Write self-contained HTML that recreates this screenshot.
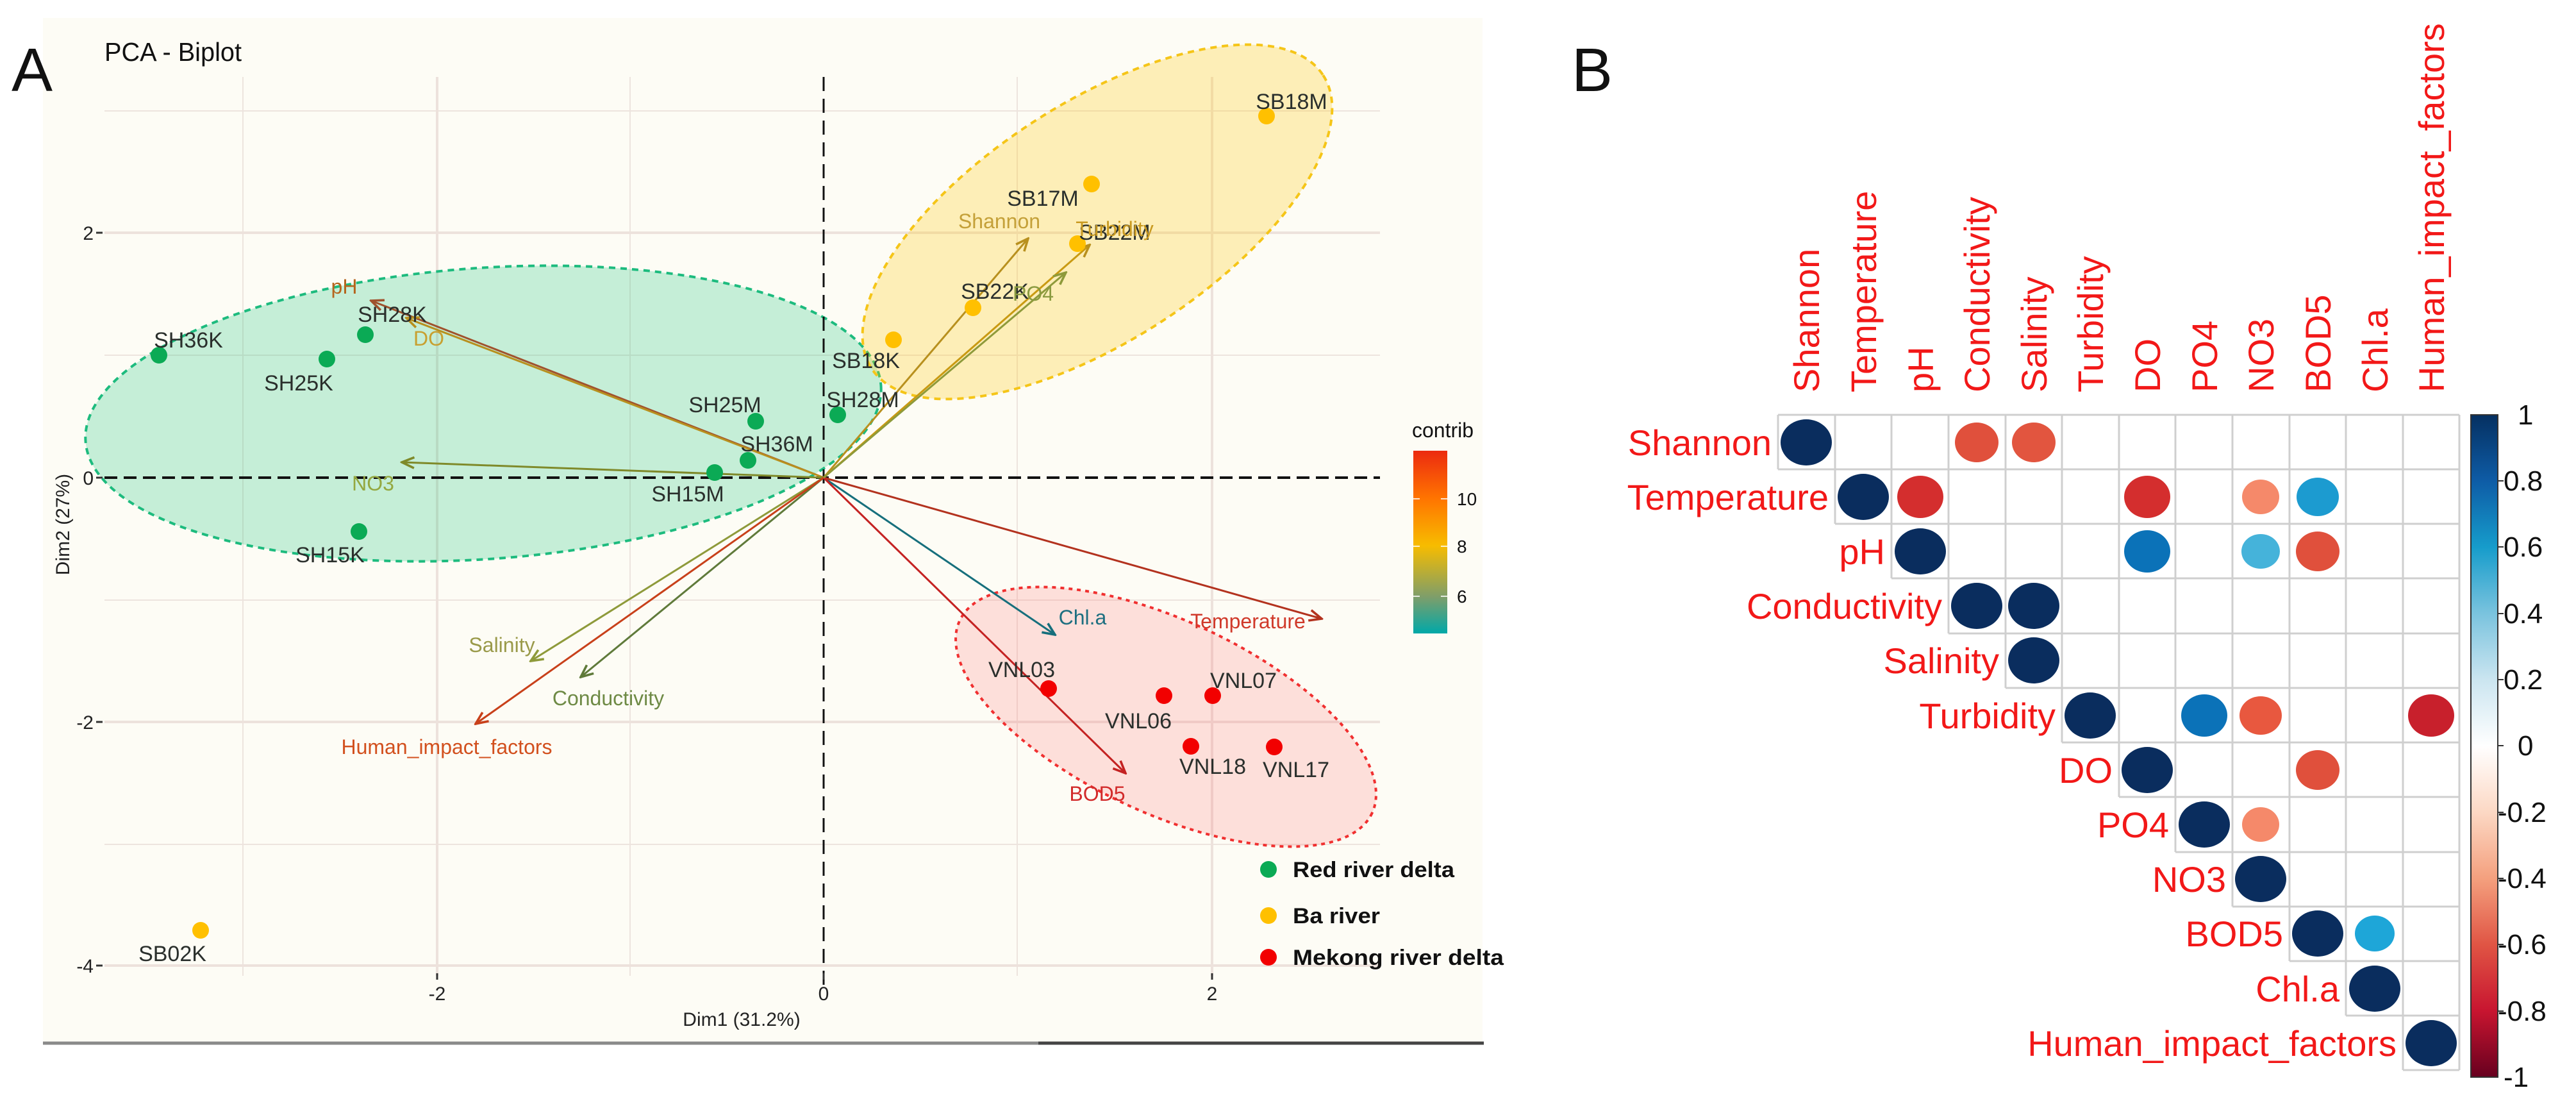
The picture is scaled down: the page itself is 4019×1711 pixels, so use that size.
<!DOCTYPE html>
<html><head><meta charset="utf-8"><style>
html,body{margin:0;padding:0;background:#fff;}
svg{display:block;}
text{font-family:"Liberation Sans",Arial,sans-serif;}
</style></head><body>
<svg width="4019" height="1711" viewBox="0 0 4019 1711" xmlns="http://www.w3.org/2000/svg">
<defs>
<linearGradient id="contrib" x1="0" y1="0" x2="0" y2="1">
<stop offset="0" stop-color="#EC2A10"/><stop offset="0.26" stop-color="#FF7400"/><stop offset="0.52" stop-color="#F7BC00"/><stop offset="0.8" stop-color="#7E9E6A"/><stop offset="1" stop-color="#00A8A8"/>
</linearGradient>
<linearGradient id="corr" x1="0" y1="0" x2="0" y2="1">
<stop offset="0" stop-color="#053061"/><stop offset="0.1" stop-color="#0E5CA6"/><stop offset="0.2" stop-color="#169CCB"/><stop offset="0.3" stop-color="#7AC3DE"/><stop offset="0.4" stop-color="#CBE5F0"/><stop offset="0.5" stop-color="#FFFFFF"/><stop offset="0.6" stop-color="#FCD8C4"/><stop offset="0.7" stop-color="#F4A07E"/><stop offset="0.8" stop-color="#E05544"/><stop offset="0.9" stop-color="#C81530"/><stop offset="1" stop-color="#67001F"/>
</linearGradient>
<marker id="mA" viewBox="0 0 20 20" refX="18" refY="10" markerWidth="24" markerHeight="24" markerUnits="userSpaceOnUse" orient="auto"><path d="M2,3 L18,10 L2,17" fill="none" stroke="#A0522D" stroke-width="3"/></marker>
<marker id="mB" viewBox="0 0 20 20" refX="18" refY="10" markerWidth="24" markerHeight="24" markerUnits="userSpaceOnUse" orient="auto"><path d="M2,3 L18,10 L2,17" fill="none" stroke="#B8901E" stroke-width="3"/></marker>
<marker id="mC" viewBox="0 0 20 20" refX="18" refY="10" markerWidth="24" markerHeight="24" markerUnits="userSpaceOnUse" orient="auto"><path d="M2,3 L18,10 L2,17" fill="none" stroke="#7F8A2A" stroke-width="3"/></marker>
<marker id="mD" viewBox="0 0 20 20" refX="18" refY="10" markerWidth="24" markerHeight="24" markerUnits="userSpaceOnUse" orient="auto"><path d="M2,3 L18,10 L2,17" fill="none" stroke="#5F7A3A" stroke-width="3"/></marker>
<marker id="mE" viewBox="0 0 20 20" refX="18" refY="10" markerWidth="24" markerHeight="24" markerUnits="userSpaceOnUse" orient="auto"><path d="M2,3 L18,10 L2,17" fill="none" stroke="#C8401A" stroke-width="3"/></marker>
<marker id="mF" viewBox="0 0 20 20" refX="18" refY="10" markerWidth="24" markerHeight="24" markerUnits="userSpaceOnUse" orient="auto"><path d="M2,3 L18,10 L2,17" fill="none" stroke="#166F7C" stroke-width="3"/></marker>
<marker id="mG" viewBox="0 0 20 20" refX="18" refY="10" markerWidth="24" markerHeight="24" markerUnits="userSpaceOnUse" orient="auto"><path d="M2,3 L18,10 L2,17" fill="none" stroke="#B3321E" stroke-width="3"/></marker>
<marker id="mH" viewBox="0 0 20 20" refX="18" refY="10" markerWidth="24" markerHeight="24" markerUnits="userSpaceOnUse" orient="auto"><path d="M2,3 L18,10 L2,17" fill="none" stroke="#C42222" stroke-width="3"/></marker>
<marker id="mI" viewBox="0 0 20 20" refX="18" refY="10" markerWidth="24" markerHeight="24" markerUnits="userSpaceOnUse" orient="auto"><path d="M2,3 L18,10 L2,17" fill="none" stroke="#8E9A3A" stroke-width="3"/></marker>
</defs>

<!-- ============ PANEL A ============ -->
<rect x="67" y="28" width="2246" height="1599" fill="#FDFCF5"/>
<line x1="67" y1="1627" x2="1620" y2="1627" stroke="#8a8a8a" stroke-width="5"/>
<line x1="1620" y1="1627" x2="2315" y2="1627" stroke="#444" stroke-width="5"/>
<text x="18" y="142" font-size="96" fill="#111" font-family="Liberation Sans">A</text>
<text x="163" y="95" font-size="41" fill="#111" textLength="214" lengthAdjust="spacingAndGlyphs">PCA - Biplot</text>

<g stroke="#EDE4DE" stroke-width="2">
<line x1="379" y1="120" x2="379" y2="1522"/><line x1="983" y1="120" x2="983" y2="1522"/><line x1="1587" y1="120" x2="1587" y2="1522"/>
<line x1="163" y1="173" x2="2153" y2="173"/><line x1="163" y1="554" x2="2153" y2="554"/><line x1="163" y1="936" x2="2153" y2="936"/><line x1="163" y1="1317" x2="2153" y2="1317"/>
</g>
<g stroke="#EDE2DC" stroke-width="4">
<line x1="682" y1="120" x2="682" y2="1522"/><line x1="1891" y1="120" x2="1891" y2="1522"/>
<line x1="163" y1="363" x2="2153" y2="363"/><line x1="163" y1="1126" x2="2153" y2="1126"/><line x1="163" y1="1506" x2="2153" y2="1506"/>
</g>

<ellipse cx="754" cy="645" rx="622" ry="227" transform="rotate(-4 754 645)" fill="rgba(0,190,110,0.22)" stroke="#1DBB7E" stroke-width="4" stroke-dasharray="10 8"/>
<ellipse cx="1712" cy="346" rx="420" ry="185" transform="rotate(-33 1712 346)" fill="rgba(255,200,20,0.28)" stroke="#F5C518" stroke-width="4" stroke-dasharray="10 8"/>
<ellipse cx="1819" cy="1118" rx="355" ry="150" transform="rotate(25 1819 1118)" fill="rgba(255,110,110,0.2)" stroke="#F03030" stroke-width="4" stroke-dasharray="6 7"/>

<line x1="1285" y1="120" x2="1285" y2="1540" stroke="#111" stroke-width="3" stroke-dasharray="22 12"/>
<line x1="163" y1="745" x2="2153" y2="745" stroke="#111" stroke-width="4" stroke-dasharray="20 10"/>

<g stroke="#333" stroke-width="3">
<line x1="150" y1="363" x2="160" y2="363"/><line x1="150" y1="745" x2="160" y2="745"/><line x1="150" y1="1126" x2="160" y2="1126"/><line x1="150" y1="1506" x2="160" y2="1506"/>
<line x1="682" y1="1518" x2="682" y2="1528"/><line x1="1285" y1="1518" x2="1285" y2="1528"/><line x1="1891" y1="1518" x2="1891" y2="1528"/>
</g>
<g font-size="30" fill="#222" text-anchor="end">
<text x="146" y="374">2</text><text x="146" y="756">0</text><text x="146" y="1137">-2</text><text x="146" y="1517">-4</text>
</g>
<g font-size="30" fill="#222" text-anchor="middle">
<text x="682" y="1560">-2</text><text x="1285" y="1560">0</text><text x="1891" y="1560">2</text>
<text x="1157" y="1600">Dim1 (31.2%)</text>
<text transform="translate(108 818) rotate(-90)">Dim2 (27%)</text>
</g>

<g stroke-width="3" fill="none">
<line x1="1285" y1="745" x2="579" y2="469" stroke="#A0522D" marker-end="url(#mA)"/>
<line x1="1285" y1="745" x2="634" y2="496" stroke="#B8901E" marker-end="url(#mB)"/>
<line x1="1285" y1="745" x2="627" y2="721" stroke="#7F8A2A" marker-end="url(#mC)"/>
<line x1="1285" y1="745" x2="828" y2="1031" stroke="#8E9A3A" marker-end="url(#mI)"/>
<line x1="1285" y1="745" x2="906" y2="1056" stroke="#5F7A3A" marker-end="url(#mD)"/>
<line x1="1285" y1="745" x2="742" y2="1129" stroke="#C8401A" marker-end="url(#mE)"/>
<line x1="1285" y1="745" x2="1646" y2="990" stroke="#166F7C" marker-end="url(#mF)"/>
<line x1="1285" y1="745" x2="2062" y2="965" stroke="#B3321E" marker-end="url(#mG)"/>
<line x1="1285" y1="745" x2="1756" y2="1206" stroke="#C42222" marker-end="url(#mH)"/>
<line x1="1285" y1="745" x2="1604" y2="372" stroke="#B8901E" marker-end="url(#mB)"/>
<line x1="1285" y1="745" x2="1700" y2="382" stroke="#C99A12" marker-end="url(#mB)"/>
<line x1="1285" y1="745" x2="1663" y2="425" stroke="#8E9A3A" marker-end="url(#mI)"/>
</g>

<g fill="#0BAA55">
<circle cx="248" cy="554" r="13"/><circle cx="510" cy="560" r="13"/><circle cx="570" cy="522" r="13"/><circle cx="560" cy="829" r="13"/>
<circle cx="1179" cy="657" r="13"/><circle cx="1167" cy="718" r="13"/><circle cx="1115" cy="737" r="13"/><circle cx="1307" cy="647" r="13"/>
</g>
<g fill="#FFC000">
<circle cx="1394" cy="530" r="13"/><circle cx="1518" cy="480" r="13"/><circle cx="1681" cy="380" r="13"/><circle cx="1703" cy="287" r="13"/><circle cx="1976" cy="181" r="13"/><circle cx="313" cy="1451" r="13"/>
</g>
<g fill="#F20000">
<circle cx="1636" cy="1074" r="13"/><circle cx="1816" cy="1085" r="13"/><circle cx="1892" cy="1085" r="13"/><circle cx="1858" cy="1164" r="13"/><circle cx="1988" cy="1165" r="13"/>
</g>

<g font-size="34" fill="#2a2f2c" text-anchor="middle">
<text x="294" y="542">SH36K</text><text x="466" y="609">SH25K</text><text x="612" y="502">SH28K</text><text x="515" y="877">SH15K</text>
<text x="1131" y="643">SH25M</text><text x="1212" y="704">SH36M</text><text x="1073" y="782">SH15M</text><text x="1346" y="635">SH28M</text>
<text x="1351" y="574">SB18K</text><text x="1552" y="466">SB22K</text><text x="1739" y="374">SB22M</text><text x="1627" y="321">SB17M</text><text x="2015" y="170">SB18M</text><text x="269" y="1499">SB02K</text>
<text x="1594" y="1056">VNL03</text><text x="1776" y="1136">VNL06</text><text x="1940" y="1073">VNL07</text><text x="1892" y="1207">VNL18</text><text x="2022" y="1212">VNL17</text>
</g>
<g font-size="32" text-anchor="middle">
<text x="537" y="458" fill="#B5651D">pH</text>
<text x="669" y="539" fill="#C8A030">DO</text>
<text x="582" y="765" fill="#94A840">NO3</text>
<text x="783" y="1017" fill="#9A9A4A">Salinity</text>
<text x="949" y="1100" fill="#6E8A45">Conductivity</text>
<text x="697" y="1176" fill="#D2501E">Human_impact_factors</text>
<text x="1689" y="974" fill="#1D6F80">Chl.a</text>
<text x="1947" y="980" fill="#D0392A">Temperature</text>
<text x="1712" y="1249" fill="#D22B2B">BOD5</text>
<text x="1559" y="356" fill="#C4A038">Shannon</text>
<text x="1739" y="368" fill="#C99A20">Turbidity</text>
<text x="1612" y="469" fill="#8A9A40">PO4</text>
</g>

<text x="2203" y="682" font-size="32" fill="#111">contrib</text>
<rect x="2205" y="703" width="53" height="285" fill="url(#contrib)"/>
<g stroke="#fff" stroke-width="2" opacity="0.8">
<line x1="2205" y1="778" x2="2215" y2="778"/><line x1="2248" y1="778" x2="2258" y2="778"/>
<line x1="2205" y1="852" x2="2215" y2="852"/><line x1="2248" y1="852" x2="2258" y2="852"/>
<line x1="2205" y1="930" x2="2215" y2="930"/><line x1="2248" y1="930" x2="2258" y2="930"/>
</g>
<g font-size="28" fill="#111">
<text x="2273" y="788">10</text><text x="2273" y="862">8</text><text x="2273" y="940">6</text>
</g>

<circle cx="1979" cy="1356" r="13" fill="#0BAA55"/>
<circle cx="1979" cy="1428" r="13" fill="#FFC000"/>
<circle cx="1979" cy="1493" r="13" fill="#F20000"/>
<g font-size="34" font-weight="bold" fill="#111">
<text x="2017" y="1368" textLength="252" lengthAdjust="spacingAndGlyphs">Red river delta</text>
<text x="2017" y="1440" textLength="136" lengthAdjust="spacingAndGlyphs">Ba river</text>
<text x="2017" y="1505" textLength="329" lengthAdjust="spacingAndGlyphs">Mekong river delta</text>
</g>

<!-- ============ PANEL B ============ -->
<text x="2452" y="142" font-size="96" fill="#111">B</text>

<g fill="none" stroke="#CFCFCF" stroke-width="3">
<path d="M2774,647 H3837 M2774,732 H3837 M2863,817 H3837 M2951,902 H3837 M3040,988 H3837 M3129,1073 H3837 M3217,1158 H3837 M3306,1243 H3837 M3394,1329 H3837 M3483,1414 H3837 M3572,1499 H3837 M3660,1584 H3837 M3749,1669 H3837"/>
<path d="M2774,647 V732 M2863,647 V817 M2951,647 V902 M3040,647 V988 M3129,647 V1073 M3217,647 V1158 M3306,647 V1243 M3394,647 V1329 M3483,647 V1414 M3572,647 V1499 M3660,647 V1584 M3749,647 V1669 M3837,647 V1669"/>
</g>

<g fill="#0A2D5E">
<ellipse cx="2818" cy="690" rx="40" ry="36"/>
<ellipse cx="2907" cy="775" rx="40" ry="36"/>
<ellipse cx="2996" cy="860" rx="40" ry="36"/>
<ellipse cx="3084" cy="945" rx="40" ry="36"/><ellipse cx="3173" cy="945" rx="40" ry="36"/>
<ellipse cx="3173" cy="1030" rx="40" ry="36"/>
<ellipse cx="3261" cy="1116" rx="40" ry="36"/>
<ellipse cx="3350" cy="1201" rx="40" ry="36"/>
<ellipse cx="3439" cy="1286" rx="40" ry="36"/>
<ellipse cx="3527" cy="1371" rx="40" ry="36"/>
<ellipse cx="3616" cy="1456" rx="40" ry="36"/>
<ellipse cx="3705" cy="1542" rx="40" ry="36"/>
<ellipse cx="3793" cy="1627" rx="40" ry="36"/>
</g>
<ellipse cx="3084" cy="690" rx="34" ry="31" fill="#E0503C"/>
<ellipse cx="3173" cy="690" rx="34" ry="31" fill="#E2553F"/>
<ellipse cx="2996" cy="775" rx="36" ry="33" fill="#D42E2E"/>
<ellipse cx="3350" cy="775" rx="36" ry="33" fill="#D42E2E"/>
<ellipse cx="3527" cy="775" rx="29" ry="27" fill="#F5896A"/>
<ellipse cx="3616" cy="775" rx="33" ry="30" fill="#1C9BD0"/>
<ellipse cx="3350" cy="860" rx="36" ry="33" fill="#0B72B8"/>
<ellipse cx="3527" cy="860" rx="30" ry="27" fill="#45B3DA"/>
<ellipse cx="3616" cy="860" rx="34" ry="31" fill="#E0503C"/>
<ellipse cx="3439" cy="1116" rx="36" ry="33" fill="#0B72B8"/>
<ellipse cx="3527" cy="1116" rx="33" ry="30" fill="#E8583F"/>
<ellipse cx="3793" cy="1116" rx="36" ry="33" fill="#C8202C"/>
<ellipse cx="3616" cy="1201" rx="34" ry="31" fill="#E0503C"/>
<ellipse cx="3527" cy="1286" rx="29" ry="27" fill="#F5896A"/>
<ellipse cx="3705" cy="1456" rx="31" ry="28" fill="#1EA6D8"/>

<g font-size="56" fill="#F21818" text-anchor="end">
<text x="2764" y="710">Shannon</text>
<text x="2853" y="795">Temperature</text>
<text x="2941" y="880">pH</text>
<text x="3030" y="965">Conductivity</text>
<text x="3119" y="1050">Salinity</text>
<text x="3207" y="1136">Turbidity</text>
<text x="3296" y="1221">DO</text>
<text x="3384" y="1306">PO4</text>
<text x="3473" y="1391">NO3</text>
<text x="3562" y="1476">BOD5</text>
<text x="3650" y="1562">Chl.a</text>
<text x="3739" y="1647">Human_impact_factors</text>
</g>
<g font-size="56" fill="#F21818">
<text transform="translate(2838 612) rotate(-90)">Shannon</text>
<text transform="translate(2927 612) rotate(-90)">Temperature</text>
<text transform="translate(3016 612) rotate(-90)">pH</text>
<text transform="translate(3104 612) rotate(-90)">Conductivity</text>
<text transform="translate(3193 612) rotate(-90)">Salinity</text>
<text transform="translate(3281 612) rotate(-90)">Turbidity</text>
<text transform="translate(3370 612) rotate(-90)">DO</text>
<text transform="translate(3459 612) rotate(-90)">PO4</text>
<text transform="translate(3547 612) rotate(-90)">NO3</text>
<text transform="translate(3636 612) rotate(-90)">BOD5</text>
<text transform="translate(3725 612) rotate(-90)">Chl.a</text>
<text transform="translate(3813 612) rotate(-90)">Human_impact_factors</text>
</g>

<rect x="3855" y="647" width="42" height="1033" fill="url(#corr)" stroke="#333" stroke-width="2"/>
<g stroke="#333" stroke-width="2">
<line x1="3897" y1="750" x2="3906" y2="750"/><line x1="3897" y1="853" x2="3906" y2="853"/><line x1="3897" y1="957" x2="3906" y2="957"/><line x1="3897" y1="1060" x2="3906" y2="1060"/><line x1="3897" y1="1163" x2="3906" y2="1163"/><line x1="3897" y1="1267" x2="3906" y2="1267"/><line x1="3897" y1="1370" x2="3906" y2="1370"/><line x1="3897" y1="1473" x2="3906" y2="1473"/><line x1="3897" y1="1577" x2="3906" y2="1577"/>
</g>
<g font-size="44" fill="#111">
<text x="3928" y="662">1</text>
<text x="3906" y="765">0.8</text><text x="3906" y="868">0.6</text><text x="3906" y="972">0.4</text><text x="3906" y="1075">0.2</text>
<text x="3928" y="1178">0</text>
<text x="3897" y="1282">-0.2</text><text x="3897" y="1385">-0.4</text><text x="3897" y="1488">-0.6</text><text x="3897" y="1592">-0.8</text>
<text x="3906" y="1695">-1</text>
</g>
</svg>
</body></html>
